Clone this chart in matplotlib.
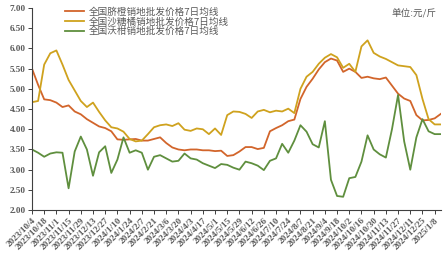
import matplotlib
matplotlib.use("Agg")
import matplotlib.pyplot as plt
import numpy as np
import pandas as pd

# weekly samples, 2023/10/4 .. 2025/1/15
dates = pd.date_range("2023-10-04", periods=68, freq="7D")

navel = [5.50, 5.10, 4.74, 4.72, 4.66, 4.55, 4.59, 4.44, 4.37, 4.25,
         4.16, 4.07, 4.03, 3.95, 3.75, 3.74, 3.75, 3.76, 3.72, 3.72,
         3.76, 3.80, 3.66, 3.55, 3.50, 3.48, 3.50, 3.50, 3.48, 3.48,
         3.46, 3.47, 3.34, 3.36, 3.45, 3.56, 3.56, 3.51, 3.54, 3.95,
         4.03, 4.10, 4.20, 4.24, 4.75, 5.05, 5.25, 5.48, 5.66, 5.75,
         5.70, 5.42, 5.50, 5.42, 5.27, 5.30, 5.26, 5.24, 5.28, 5.08,
         4.88, 4.76, 4.70, 4.35, 4.22, 4.23, 4.27, 4.38]

shatang = [4.67, 4.70, 5.60, 5.88, 5.95, 5.60, 5.22, 4.96, 4.70, 4.55,
           4.66, 4.43, 4.22, 4.05, 4.02, 3.94, 3.76, 3.70, 3.72, 3.88,
           4.05, 4.10, 4.12, 4.08, 4.15, 3.99, 3.96, 4.02, 4.00, 3.88,
           4.02, 3.86, 4.35, 4.44, 4.43, 4.38, 4.28, 4.44, 4.48, 4.42,
           4.46, 4.44, 4.51, 4.40, 5.00, 5.30, 5.42, 5.62, 5.77, 5.86,
           5.78, 5.52, 5.62, 5.42, 6.05, 6.20, 5.89, 5.80, 5.74, 5.66,
           5.58, 5.56, 5.54, 5.34, 4.75, 4.25, 4.12, 4.12]

wogan = [3.50, 3.42, 3.32, 3.40, 3.43, 3.42, 2.54, 3.45, 3.82, 3.50,
         2.85, 3.43, 3.58, 2.92, 3.25, 3.80, 3.42, 3.48, 3.42, 3.00,
         3.32, 3.36, 3.28, 3.20, 3.22, 3.40, 3.28, 3.25, 3.16, 3.10,
         3.04, 3.14, 3.12, 3.05, 3.00, 3.20, 3.16, 3.10, 2.99, 3.22,
         3.28, 3.64, 3.42, 3.72, 4.10, 3.94, 3.63, 3.55, 4.20, 2.75,
         2.35, 2.33, 2.79, 2.82, 3.20, 3.85, 3.50, 3.38, 3.30, 4.00,
         4.85, 3.70, 3.00, 3.80, 4.25, 3.95, 3.88, 3.88]

labels = ["全国脐橙销地批发价格7日均线",
          "全国沙糖橘销地批发价格7日均线",
          "全国沃柑销地批发价格7日均线"]
colors = ["#D2652B", "#CFA21E", "#5F8F3E"]

tick_dates = pd.date_range("2023-10-04", "2025-01-08", freq="14D")

fig = plt.figure(figsize=(4.43, 2.62), dpi=100)
ax = fig.add_axes([0.0722, 0.198, 0.9228, 0.7715])

for y, lab, c in zip([navel, shatang, wogan], labels, colors):
    ax.plot(dates, y, color=c, lw=1.3, label=lab)

ax.set_xlim(dates[0], dates[-1])
ax.set_ylim(2, 7)
ax.set_yticks(np.arange(2, 7.01, 0.5))
ax.set_yticklabels([f"{v:.2f}" for v in np.arange(2, 7.01, 0.5)],
                   family="Liberation Serif", weight="bold", fontsize=6.6, color="#595959")
ax.set_xticks(tick_dates)
ax.set_xticklabels([f"{d.year}/{d.month}/{d.day}" for d in tick_dates],
                   rotation=45, ha="right", rotation_mode="anchor",
                   family="Liberation Serif", weight="bold", fontsize=6.6, color="#595959")

for s in ["top", "right"]:
    ax.spines[s].set_visible(False)
for s in ["left", "bottom"]:
    ax.spines[s].set_color("#404040")
    ax.spines[s].set_linewidth(0.8)
ax.tick_params(axis="both", length=3, width=0.7, color="#404040", pad=1.5)

ax.legend(loc="upper left", bbox_to_anchor=(0.1467, 0.972), bbox_transform=fig.transFigure,
          frameon=False, prop={"family": "Noto Sans CJK SC", "size": 6.9},
          labelcolor="#595959", handlelength=2.0, handletextpad=0.5,
          labelspacing=0.03, borderpad=0, borderaxespad=0)

fig.text(0.986, 0.95, "单位:元/斤", ha="right", va="center",
         family="Noto Sans CJK SC", fontsize=6.9, color="#595959")

fig.savefig("out.png", dpi=100)
